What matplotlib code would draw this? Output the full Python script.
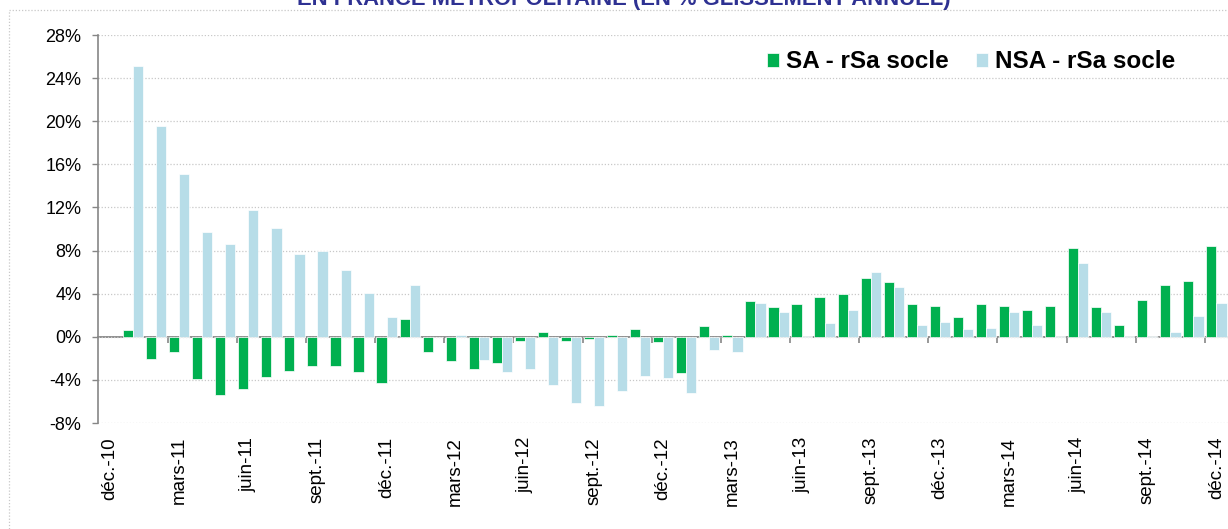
import matplotlib.pyplot as plt
from matplotlib.patches import Rectangle
from matplotlib.ticker import FuncFormatter
import numpy as np

plt.rcParams['font.family'] = ['Liberation Sans', 'DejaVu Sans']

# months from dec. 2010 to dec. 2014
noms = ["janv.", "févr.", "mars", "avr.", "mai", "juin",
        "juil.", "août", "sept.", "oct.", "nov.", "déc."]
mois = [f"{noms[(11 + i) % 12]}-{10 + (11 + i) // 12}" for i in range(49)]

# annual growth (%) - seasonally adjusted
sa = [np.nan, 0.6, -2.1, -1.4, -3.9, -5.4, -4.8, -3.75, -3.2, -2.75, -2.75, -3.3, -4.3,
      1.65, -1.4, -2.25, -2.95, -2.4, -0.35, 0.45, -0.35, -0.25, 0.2, 0.7, -0.5,
      -3.35, 1.0, 0.2, 3.3, 2.75, 3.05, 3.7, 3.95, 5.5, 5.1, 3.05, 2.9,
      1.8, 3.05, 2.9, 2.5, 2.9, 8.2, 2.75, 1.1, 3.45, 4.8, 5.2, 8.45]
# annual growth (%) - not seasonally adjusted
nsa = [np.nan, 25.1, 19.6, 15.1, 9.7, 8.6, 11.75, 10.1, 7.65, 7.95, 6.2, 4.1, 1.8,
       4.8, 0.0, 0.15, -2.15, -3.25, -2.95, -4.45, -6.1, -6.4, -5.0, -3.65, -3.8,
       -5.25, -1.2, -1.45, 3.15, 2.3, 0.05, 1.25, 2.5, 6.05, 4.65, 1.1, 1.4,
       0.7, 0.85, 2.3, 1.1, 0.05, 6.85, 2.3, 0.05, 0.05, 0.4, 1.95, 3.15]

yticks = list(range(-8, 29, 4))

GREEN = "#00B050"
BLUE = "#B7DDE8"
GREY = "#868686"

fig = plt.figure(figsize=(12.28, 5.29), dpi=100)
ax = fig.add_axes([98.5 / 1228, 1 - 423 / 529, 1 - 98.5 / 1228, (423 - 35) / 529])

x = np.arange(len(mois))
w = 0.44
b1 = ax.bar(x - w / 2, sa, width=w, color=GREEN, edgecolor="white", linewidth=0.5,
            label="SA - rSa socle", zorder=3)
b2 = ax.bar(x + w / 2, nsa, width=w, color=BLUE, edgecolor="white", linewidth=0.5,
            label="NSA - rSa socle", zorder=3)

ax.set_xlim(-0.5, len(mois) - 0.5)
ax.set_ylim(-8, 28)
ax.set_yticks(yticks)
ax.yaxis.set_major_formatter(FuncFormatter(lambda v, p: f"{v:.0f}%"))
ax.grid(axis="y", color="#C8C8C8", linestyle=(0, (1, 1.5)), linewidth=0.9, zorder=0)
ax.set_axisbelow(True)

ax.set_xticks(x[::3])
ax.set_xticklabels(mois[::3], rotation=90, fontsize=13.5)
ax.tick_params(axis="x", length=0, pad=10)
ax.tick_params(axis="y", length=4.3, width=1, color=GREY, pad=8, labelsize=13)

for s in ["top", "right", "bottom"]:
    ax.spines[s].set_visible(False)
ax.spines["left"].set_color(GREY)
ax.spines["left"].set_linewidth(1.2)

# category axis crossing at 0 with tick marks every 3 months
sec = ax.secondary_xaxis(8 / 36)
sec.set_xticks(np.arange(2.5, len(mois) - 1, 3))
sec.tick_params(length=4, width=1.2, color=GREY, labelbottom=False, labeltop=False)
sec.spines["bottom"].set_color(GREY)
sec.spines["bottom"].set_linewidth(1.3)

leg = fig.legend(handles=[b1, b2], loc="center left",
                 bbox_to_anchor=(767 / 1228, 1 - 62 / 529), ncol=2, frameon=False,
                 prop={"weight": "bold", "size": 17.5}, handlelength=0.5,
                 handleheight=0.5, handletextpad=0.3, columnspacing=1.1,
                 borderpad=0, borderaxespad=0)

# title cut off at the top of the picture
fig.text(0.508, 1 - 4.5 / 529, "EN FRANCE METROPOLITAINE (EN % GLISSEMENT ANNUEL)",
         ha="center", va="baseline", fontsize=15.8, fontweight="bold", color="#2E3192")

# dotted chart border
fig.patches.append(Rectangle((9 / 1228, -0.1), 2, 1 - 10 / 529 + 0.1, fill=False,
                             edgecolor="#C8C8C8", linestyle=(0, (1, 1.5)), linewidth=0.9,
                             transform=fig.transFigure, figure=fig))

fig.savefig("out.png", dpi=100)
